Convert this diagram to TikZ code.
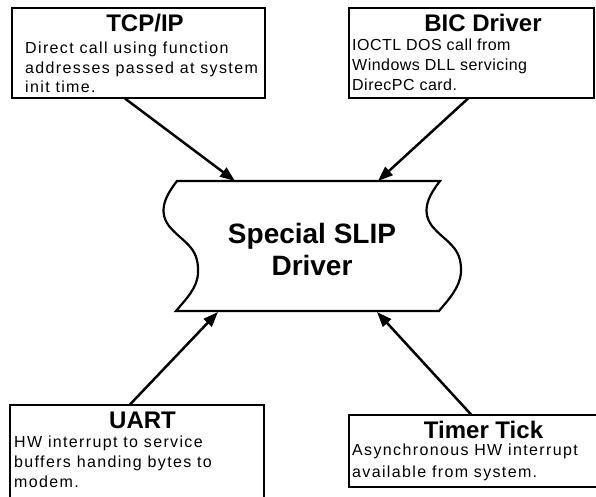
\documentclass[tikz,border=0pt]{standalone}
\usepackage{fontspec}
\setmainfont{Liberation Sans}
\newfontfamily\widesans[LetterSpace=8.5]{Liberation Sans}
\newfontfamily\bicsans[LetterSpace=3]{Liberation Sans}
\usetikzlibrary{arrows.meta,calc}
\tikzset{
  line cap=round,
  line join=round,
  infobox/.style={draw, line width=1.1pt, inner sep=0pt, fill=white},
  boxtitle/.style={inner sep=0pt, anchor=base, font=\fontsize{24}{28}\selectfont\bfseries},
  boxtext/.style={inner sep=0pt, anchor=base west, align=left, font=\widesans\fontsize{16}{19.5}\selectfont},
  tape/.style={draw, line width=2.2pt, fill=white},
  arrow/.style={-{Triangle[length=15pt,width=11pt]}, line width=2.5pt}
}
\begin{document}
\begin{tikzpicture}[x=1pt,y=-1pt]
  \useasboundingbox (0,0) rectangle (596,497);

  % the driver in the middle
  \draw[tape] (177,181) -- (440,181)
    .. controls (430,194) and (420,210) .. (432,226)
    .. controls (445,242) and (462,246) .. (461,272)
    .. controls (460,288) and (448,300) .. (439,311)
    -- (176,311)
    .. controls (185,300) and (198,288) .. (198,272)
    .. controls (199,246) and (182,242) .. (169,226)
    .. controls (157,210) and (167,194) .. (177,181) -- cycle;
  \node[align=center, inner sep=0pt, font=\fontsize{28}{32}\selectfont\bfseries] (slip) at (312,249) {Special SLIP\\Driver};

  \coordinate (slip-nw) at (235,181);
  \coordinate (slip-ne) at (378,181);
  \coordinate (slip-sw) at (218,312);
  \coordinate (slip-se) at (377,312);

  % upper boxes (text anchored at its last baseline)
  \node[infobox, minimum width=253pt, minimum height=90pt] (tcp) at (138.5,53) {};
  \node[boxtitle] (tcp-title) at (145,32) {TCP/IP};
  \node[boxtext] (tcp-text) at (25,93) {Direct call using function\\addresses passed at system\\init time.};

  \node[infobox, minimum width=245pt, minimum height=90pt] (bic) at (471.5,53) {};
  \node[boxtitle] (bic-title) at (483,32) {BIC Driver};
  \node[boxtext, font=\bicsans\fontsize{16}{20}\selectfont] (bic-text) at (352,91) {IOCTL DOS call from\\Windows DLL servicing\\DirecPC card.};

  % lower boxes
  \node[infobox, minimum width=254pt, minimum height=96pt] (uart) at (137,453) {};
  \node[boxtitle] (uart-title) at (142.5,428) {UART};
  \node[boxtext, font=\widesans\fontsize{16}{20}\selectfont] (uart-text) at (14,487) {HW interrupt to service\\buffers handing bytes to\\modem.};

  \node[infobox, minimum width=252pt, minimum height=72pt] (timer) at (475,451) {};
  \node[boxtitle] (timer-title) at (483.5,438) {Timer Tick};
  \node[boxtext, font=\widesans\fontsize{16}{22}\selectfont] (timer-text) at (352,477) {Asynchronous HW interrupt\\available from system.};

  % calls into the driver
  \draw[arrow] ([xshift=-13.5pt]tcp.south) -- (slip-nw);
  \draw[arrow] ([xshift=-3.5pt]bic.south) -- (slip-ne);
  \draw[arrow] ([xshift=-7pt]uart.north) -- (slip-sw);
  \draw[arrow] ([xshift=-4pt]timer.north) -- (slip-se);
\end{tikzpicture}
\end{document}
